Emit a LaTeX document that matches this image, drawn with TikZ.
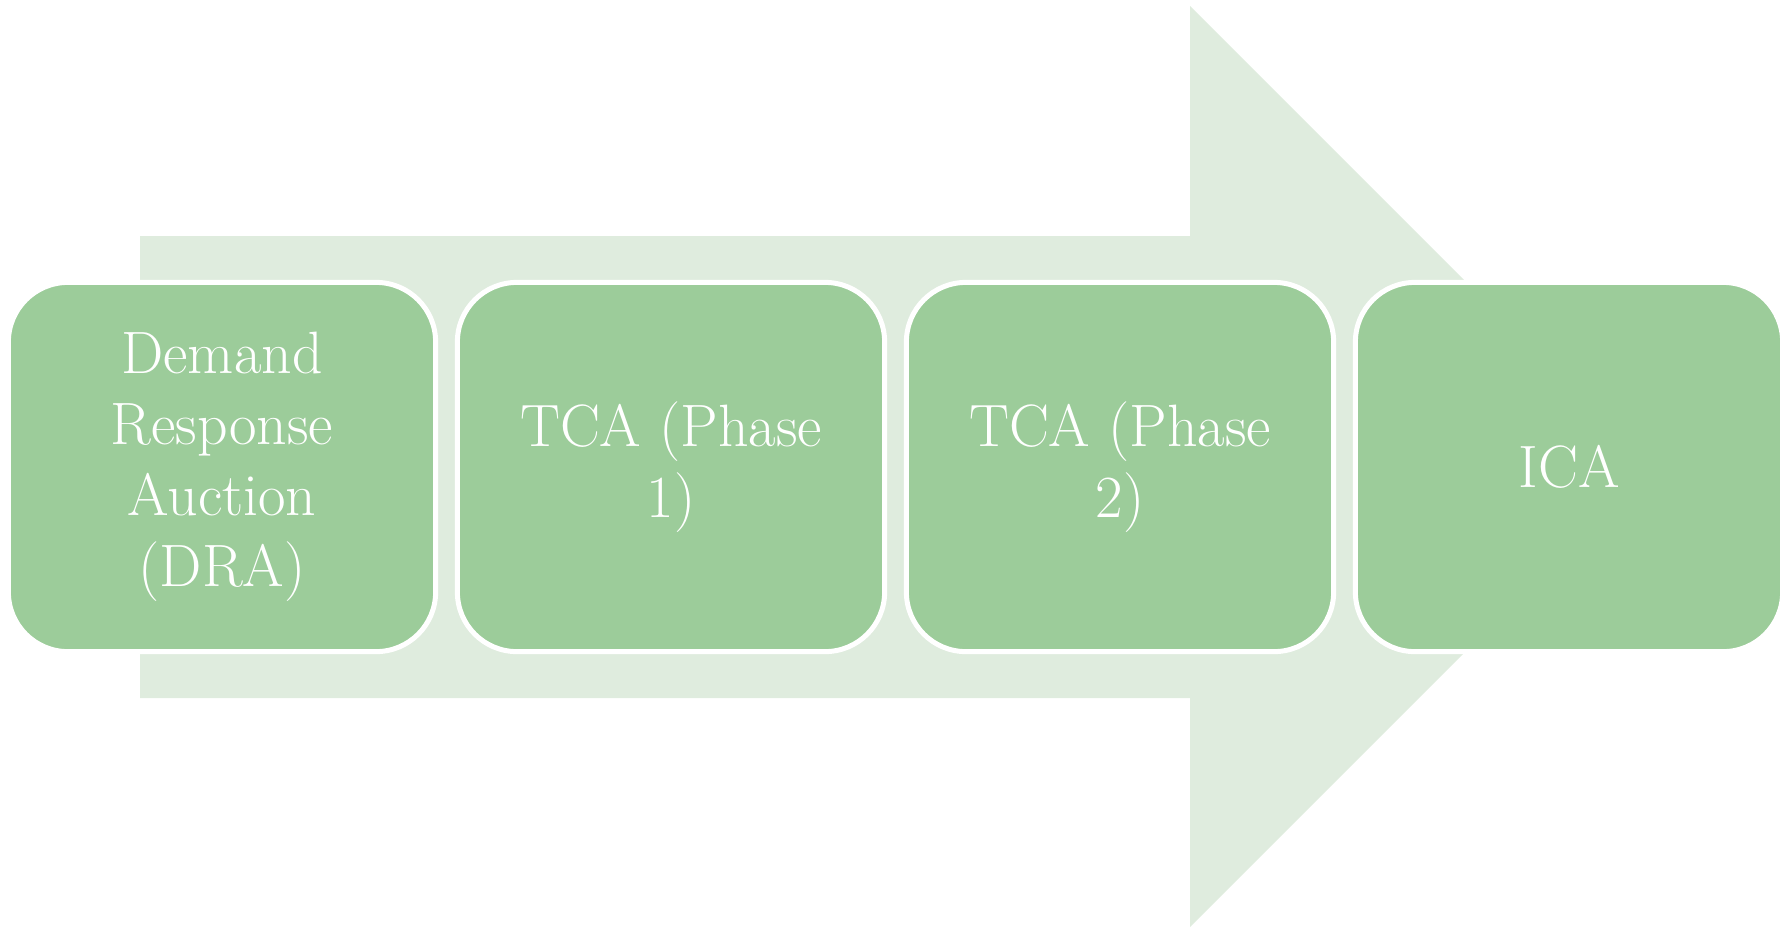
\documentclass[tikz,border=0pt]{standalone}
\definecolor{arrowgreen}{RGB}{223,236,222}
\definecolor{boxgreen}{RGB}{156,204,154}
\tikzset{
  stagebox/.style={rectangle, rounded corners=0.595cm, fill=boxgreen, draw=white,
    line width=0.05cm, minimum width=4.27cm, minimum height=3.69cm, inner sep=0pt,
    text=white, align=center,
    font=\fontsize{17}{20.2}\selectfont},
  flowarrow/.style={fill=arrowgreen, draw=none},
}
\begin{document}
% one unit = 0.01cm, y grows downward
\begin{tikzpicture}[x=0.01cm, y=-0.01cm]
\useasboundingbox (0,0) rectangle (1789,927);

% broad block arrow behind the stages
\fill[flowarrow] (140,236) -- (1190,236) -- (1190,6) -- (1650.5,466.5)
  -- (1190,927) -- (1190,698) -- (140,698) -- cycle;

% the four stages
\node[stagebox] (dra)  at (222,467)  {Demand\\Response\\Auction\\(DRA)};
\node[stagebox] (tca1) at (671,467)  {TCA (Phase\\1)};
\node[stagebox] (tca2) at (1120,467) {TCA (Phase\\2)};
\node[stagebox] (ica)  at (1569,467) {ICA};
\end{tikzpicture}
\end{document}
